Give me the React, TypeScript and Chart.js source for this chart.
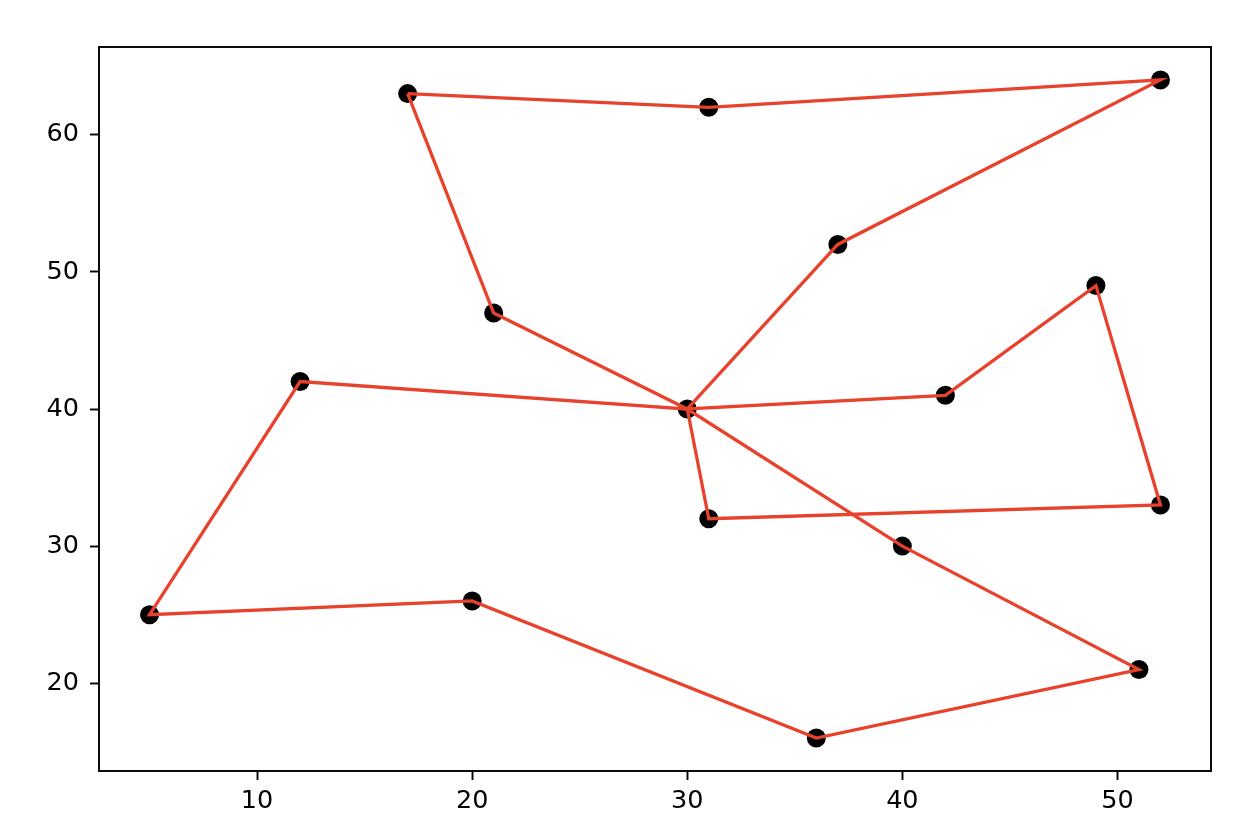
import React, { useEffect, useRef } from "react";
import { Chart, registerables } from "chart.js";

Chart.register(...registerables);

// Cities (scatter points)
const cityX = [17, 31, 52, 37, 30, 42, 49, 52, 31, 12, 5, 20, 36, 51, 40, 21];
const cityY = [63, 62, 64, 52, 40, 41, 49, 33, 32, 42, 25, 26, 16, 21, 30, 47];

// Route (line through the cities, in visiting order)
const routeX = [17, 31, 52, 37, 30, 42, 49, 52, 31, 30, 12, 5, 20, 36, 51, 40, 30, 21, 17];
const routeY = [63, 62, 64, 52, 40, 41, 49, 33, 32, 40, 42, 25, 26, 16, 21, 30, 40, 47, 63];

const xTicks = [10, 20, 30, 40, 50];
const yTicks = [20, 30, 40, 50, 60];

const X_MIN = 2.65;
const X_MAX = 54.35;
const Y_MIN = 13.6;
const Y_MAX = 66.4;

const FONT = { family: "'DejaVu Sans', sans-serif", size: 25.5 };

export default function App() {
  const ref = useRef<HTMLCanvasElement | null>(null);

  useEffect(() => {
    if (!ref.current) return;
    const framePlugin = {
      id: "frame",
      afterDraw(chart: any) {
        const { ctx, chartArea } = chart;
        ctx.save();
        ctx.strokeStyle = "#000";
        ctx.lineWidth = 1.9;
        ctx.strokeRect(
          chartArea.left,
          chartArea.top,
          chartArea.right - chartArea.left,
          chartArea.bottom - chartArea.top
        );
        ctx.restore();
      },
    };
    const chart = new Chart(ref.current, {
      type: "scatter",
      data: {
        datasets: [
          {
            type: "line",
            data: routeX.map((x, i) => ({ x, y: routeY[i] })),
            borderColor: "#e8412c",
            borderWidth: 3.3,
            pointRadius: 0,
            fill: false,
            tension: 0,
            showLine: true,
          } as any,
          {
            type: "scatter",
            data: cityX.map((x, i) => ({ x, y: cityY[i] })),
            backgroundColor: "#000",
            borderColor: "#000",
            pointRadius: 9.5,
            pointBorderWidth: 0,
          },
        ],
      },
      options: {
        responsive: false,
        animation: false,
        layout: { padding: { left: 0, top: 47, right: 41, bottom: 0 } },
        plugins: {
          legend: { display: false },
          tooltip: { enabled: false },
        },
        scales: {
          x: {
            type: "linear",
            min: X_MIN,
            max: X_MAX,
            afterBuildTicks: (scale: any) => {
              scale.ticks = xTicks.map((v) => ({ value: v }));
            },
            afterFit: (scale: any) => {
              scale.height = 65;
            },
            border: { display: false },
            grid: {
              drawOnChartArea: false,
              drawTicks: true,
              tickLength: 9,
              tickWidth: 1.9,
              tickColor: "#000",
            },
            ticks: {
              color: "#000",
              font: FONT,
              padding: 6,
              maxRotation: 0,
              callback: (v: any) => String(v),
            },
          },
          y: {
            type: "linear",
            min: Y_MIN,
            max: Y_MAX,
            afterBuildTicks: (scale: any) => {
              scale.ticks = yTicks.map((v) => ({ value: v }));
            },
            afterFit: (scale: any) => {
              scale.width = 99;
            },
            border: { display: false },
            grid: {
              drawOnChartArea: false,
              drawTicks: true,
              tickLength: 9,
              tickWidth: 1.9,
              tickColor: "#000",
            },
            ticks: {
              color: "#000",
              font: FONT,
              padding: 11,
              callback: (v: any) => String(v),
            },
          },
        },
      },
      plugins: [framePlugin],
    } as any);
    return () => chart.destroy();
  }, []);

  return (
    <div style={{ position: "absolute", left: 0, top: 0, width: 1252, height: 836, background: "#fff" }}>
      <canvas ref={ref} width={1252} height={836} style={{ width: 1252, height: 836 }} />
    </div>
  );
}
